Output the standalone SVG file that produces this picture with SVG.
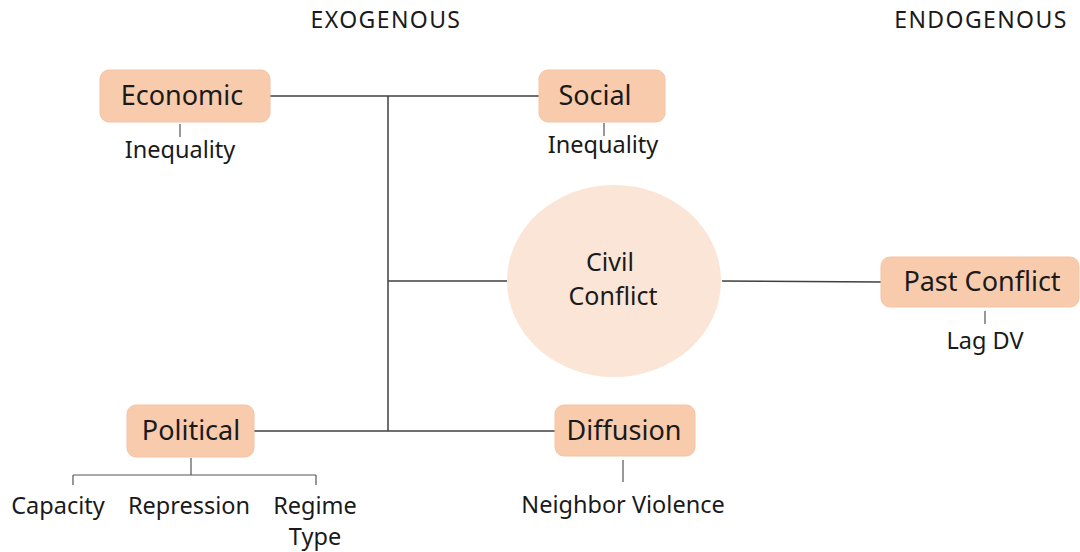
<svg xmlns="http://www.w3.org/2000/svg" width="1080" height="552" viewBox="0 0 1080 552">
<style>
text{font-family:"Noto Sans","Liberation Sans",sans-serif;fill:#1a1a1a;text-anchor:middle}
.hdr{font-size:23px;letter-spacing:1.4px}
.lbl{font-size:27px}
.cc{font-size:25px}
.sub{font-size:23.5px}
.box{fill:#F8CBAD;stroke:#F4C3A3;stroke-width:1}
.ln{stroke:#404040;stroke-width:1.5;fill:none}
.tk{stroke:#555;stroke-width:1.2;fill:none}
</style>
<rect width="1080" height="552" fill="#fff"/>
<g id="headers">
<text class="hdr" x="386" y="28">EXOGENOUS</text>
<text class="hdr" x="981" y="28">ENDOGENOUS</text>
</g>
<g id="connectors">
<path class="ln" d="M270 96H539M388 96V431M388 281H508M254 431H555M722 281L881 282"/>
<path class="tk" d="M180 124V137M604 123V136M985 311V324M623 460V482M191 458V475M73 475H316M73 475V485M316 475V485"/>
</g>
<g id="economic">
<rect class="box" x="100" y="70" width="170" height="52" rx="9"/>
<text class="lbl" x="182" y="105">Economic</text>
<text class="sub" x="180" y="158">Inequality</text>
</g>
<g id="social">
<rect class="box" x="539" y="70" width="126" height="52" rx="9"/>
<text class="lbl" x="595" y="105">Social</text>
<text class="sub" x="603" y="153">Inequality</text>
</g>
<g id="civil-conflict">
<ellipse cx="614" cy="281" rx="107" ry="96" fill="#FBE5D6"/>
<text class="cc" x="610" y="271">Civil</text>
<text class="cc" x="613" y="305">Conflict</text>
</g>
<g id="past-conflict">
<rect class="box" x="881" y="257" width="198" height="50" rx="9"/>
<text class="lbl" x="982" y="291">Past Conflict</text>
<text class="sub" x="985" y="349">Lag DV</text>
</g>
<g id="political">
<rect class="box" x="127" y="405" width="127" height="52" rx="9"/>
<text class="lbl" x="191" y="440">Political</text>
<text class="sub" x="58" y="514">Capacity</text>
<text class="sub" x="189" y="514">Repression</text>
<text class="sub" x="315" y="514">Regime</text>
<text class="sub" x="315" y="545">Type</text>
</g>
<g id="diffusion">
<rect class="box" x="555" y="405" width="140" height="51" rx="9"/>
<text class="lbl" x="624" y="440">Diffusion</text>
<text class="sub" x="623" y="513">Neighbor Violence</text>
</g>
</svg>
